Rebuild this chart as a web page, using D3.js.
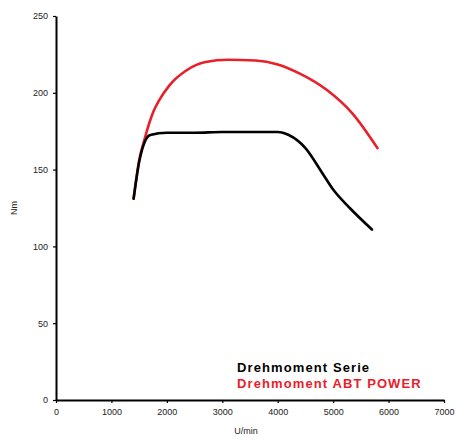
<!DOCTYPE html>
<html>
<head>
<meta charset="utf-8">
<script src="https://cdn.jsdelivr.net/npm/d3@7"></script>
<style>
  body { margin: 0; background: #fff; }
  svg { display: block; font-family: "Liberation Sans", Arial, sans-serif; }
  .axis path, .axis line { stroke: #000; }
  .axis text { fill: #222; font-size: 9px; }
</style>
</head>
<body>
<svg id="chart" width="457" height="441"></svg>
<script>
// --- chart data ---
const xTicks = [0, 1000, 2000, 3000, 4000, 5000, 6000, 7000];
const yTicks = [0, 50, 100, 150, 200, 250];

const serieRpm = [1400, 1500, 1600, 1700, 2000, 2500, 3000, 3500, 4000, 4200, 4500, 4800, 5000, 5300, 5700];
const serieNm  = [131, 155, 168, 172.5, 174, 174, 174.5, 174.5, 174.5, 172.5, 164, 148, 137, 125, 111];

const abtRpm = [1400, 1500, 1600, 1680, 1760, 1860, 2050, 2350, 2700, 3100, 3600, 4000, 4400, 4900, 5350, 5800];
const abtNm  = [131, 156, 170, 180, 188, 195, 205, 214.5, 220, 221.5, 221, 218.5, 212.5, 201.5, 186.5, 164];

const seriesNames = ['Drehmoment Serie', 'Drehmoment ABT POWER'];
const seriesColors = ['#000', '#e8202a'];

// --- drawing ---
const width = 457, height = 441;
const margin = { top: 16, right: 13, bottom: 41, left: 56 };

const svg = d3.select('#chart');

const x = d3.scaleLinear().domain([0, 7000]).range([margin.left, width - margin.right]);
const y = d3.scaleLinear().domain([0, 250]).range([height - margin.bottom, margin.top]);

svg.append('g')
    .attr('class', 'axis')
    .attr('transform', `translate(0,${y(0)})`)
    .call(d3.axisBottom(x).tickValues(xTicks).tickFormat(d3.format('d'))
        .tickSize(3).tickSizeOuter(0).tickPadding(6));

svg.append('g')
    .attr('class', 'axis')
    .attr('transform', `translate(${x(0)},0)`)
    .call(d3.axisLeft(y).tickValues(yTicks).tickFormat(d3.format('d'))
        .tickSize(3).tickSizeOuter(0).tickPadding(5));

svg.selectAll('.axis path').attr('stroke-width', 2);
svg.selectAll('.axis line').attr('stroke-width', 1.2);

// axis titles
svg.append('text')
    .attr('x', x(3500) - 4)
    .attr('y', 434)
    .attr('text-anchor', 'middle')
    .attr('font-size', 9)
    .attr('fill', '#222')
    .text('U/min');

svg.append('text')
    .attr('transform', `translate(17,${y(125)}) rotate(-90)`)
    .attr('text-anchor', 'middle')
    .attr('font-size', 9)
    .attr('fill', '#222')
    .text('Nm');

const line = d3.line()
    .x(d => x(d[0]))
    .y(d => y(d[1]))
    .curve(d3.curveMonotoneX);

const abtData = abtRpm.map((r, i) => [r, abtNm[i]]);
const serieData = serieRpm.map((r, i) => [r, serieNm[i]]);

// red first so the black curve sits on top at the shared start
svg.append('path')
    .datum(abtData)
    .attr('d', line)
    .attr('fill', 'none')
    .attr('stroke', seriesColors[1])
    .attr('stroke-width', 2.6)
    .attr('stroke-linecap', 'round');

svg.append('path')
    .datum(serieData)
    .attr('d', line)
    .attr('fill', 'none')
    .attr('stroke', seriesColors[0])
    .attr('stroke-width', 2.6)
    .attr('stroke-linecap', 'round');

// legend
const legend = svg.append('g').attr('transform', 'translate(237,372)');
seriesNames.forEach((name, i) => {
    legend.append('text')
        .attr('y', i * 16)
        .attr('font-size', 13)
        .attr('font-weight', 'bold')
        .attr('letter-spacing', 1.1)
        .attr('fill', seriesColors[i])
        .text(name);
});
</script>
</body>
</html>
